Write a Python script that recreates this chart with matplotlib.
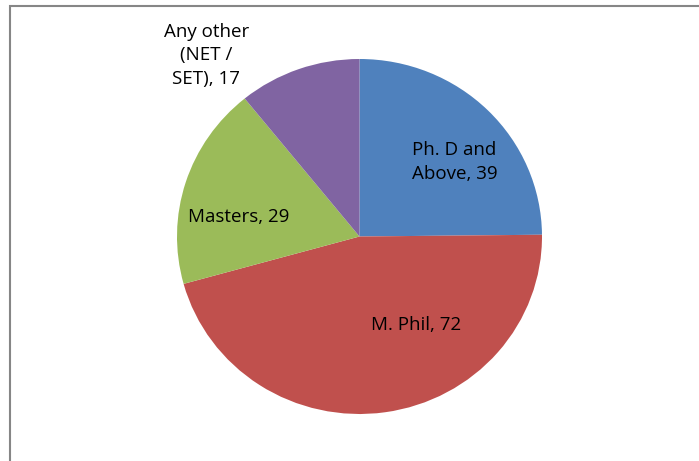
import matplotlib.pyplot as plt
from matplotlib.patches import Rectangle

plt.rcParams['font.family'] = ['Open Sans', 'DejaVu Sans']

labels = ['Ph. D and\nAbove', 'M. Phil', 'Masters', 'Any other\n(NET /\nSET)']
values = [39, 72, 29, 17]
colors = ['#4F81BD', '#C0504D', '#9BBB59', '#8064A2']
# label centres in axes data units (pie radius = 1)
label_pos = [(0.52, 0.42), (0.31, -0.50), (-0.66, 0.11), (-0.84, 1.02)]

fig = plt.figure(figsize=(6.99, 4.61), dpi=100)

# chart border (only left and top visible in the reference)
fig.patches.append(Rectangle((10 / 699, -0.1), 1.2, 1 - 6.5 / 461 + 0.1,
                             transform=fig.transFigure, fill=False,
                             edgecolor='#868686', linewidth=1.5))

cx, cy, rx, ry = 359.5, 236.5, 182.5, 177.5
ax = fig.add_axes([(cx - rx) / 699, (461 - cy - ry) / 461, 2 * rx / 699, 2 * ry / 461])
wedges, _ = ax.pie(values, colors=colors, startangle=90, counterclock=False,
                   radius=1, wedgeprops=dict(linewidth=0))
ax.set_aspect('auto')
ax.set_xlim(-1, 1)
ax.set_ylim(-1, 1)

for lab, v, (x, y) in zip(labels, values, label_pos):
    ax.text(x, y, '{}, {}'.format(lab, v), ha='center', va='center',
            fontsize=13.5, color='black', linespacing=1.4, clip_on=False)

fig.savefig('out.png', dpi=100)
